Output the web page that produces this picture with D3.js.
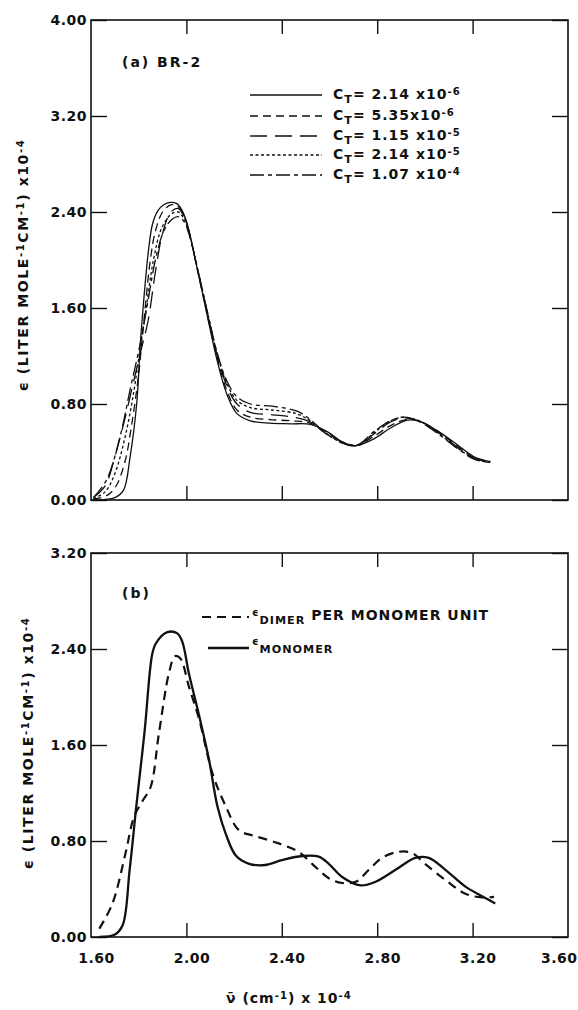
<!DOCTYPE html>
<html>
<head>
<meta charset="utf-8">
<script src="https://cdn.jsdelivr.net/npm/d3@7"></script>
<style>
  body { margin: 0; background: #fff; }
  text { font-family: "DejaVu Sans", sans-serif; fill: #111; font-weight: bold; }
</style>
</head>
<body>
<script>
// ---------------- data (wavenumber x10^-4, epsilon x10^-4) ----------------

// panel (a) BR-2, one spectrum per total concentration
var concLabels = ["2.14 x10", "5.35x10", "1.15 x10", "2.14 x10", "1.07 x10"];
var concExp = ["-6", "-6", "-5", "-5", "-4"];

var ct_2_14e6 = [[1.61,0.0],[1.66,0.005],[1.70,0.02],[1.736,0.08],[1.764,0.36],[1.792,0.81],[1.806,1.28],[1.82,1.64],
  [1.841,2.08],[1.858,2.30],[1.88,2.41],[1.905,2.46],[1.932,2.48],[1.96,2.47],[1.98,2.42],[2.002,2.31],[2.044,1.94],
  [2.086,1.55],[2.128,1.17],[2.17,0.88],[2.212,0.72],[2.268,0.66],[2.35,0.64],[2.44,0.635],[2.52,0.63],[2.59,0.57],
  [2.674,0.46],[2.716,0.455],[2.786,0.51],[2.856,0.60],[2.926,0.665],[2.98,0.655],[3.05,0.58],[3.136,0.46],[3.206,0.36],[3.276,0.32]];
var ct_5_35e6 = [[1.61,0.01],[1.66,0.03],[1.70,0.10],[1.74,0.30],[1.77,0.62],[1.80,1.05],[1.812,1.29],[1.83,1.66],
  [1.85,2.02],[1.87,2.24],[1.90,2.40],[1.935,2.46],[1.962,2.45],[1.983,2.40],[2.004,2.29],[2.046,1.92],[2.088,1.54],
  [2.13,1.18],[2.17,0.91],[2.212,0.75],[2.268,0.69],[2.35,0.67],[2.44,0.66],[2.52,0.64],[2.59,0.56],[2.67,0.47],
  [2.716,0.455],[2.786,0.53],[2.856,0.62],[2.92,0.67],[2.975,0.66],[3.05,0.575],[3.136,0.45],[3.206,0.355],[3.276,0.315]];
var ct_1_15e5 = [[1.61,0.02],[1.66,0.12],[1.70,0.36],[1.74,0.66],[1.78,1.00],[1.81,1.25],[1.84,1.50],[1.87,1.90],
  [1.90,2.22],[1.935,2.40],[1.965,2.43],[1.985,2.38],[2.006,2.27],[2.048,1.91],[2.09,1.54],[2.13,1.20],[2.17,0.95],
  [2.212,0.80],[2.268,0.73],[2.36,0.71],[2.45,0.69],[2.52,0.65],[2.58,0.56],[2.66,0.47],[2.716,0.455],[2.786,0.55],
  [2.856,0.65],[2.91,0.685],[2.97,0.66],[3.05,0.57],[3.136,0.44],[3.206,0.35],[3.276,0.31]];
var ct_2_14e5 = [[1.61,0.01],[1.66,0.07],[1.70,0.22],[1.74,0.50],[1.775,0.85],[1.806,1.26],[1.83,1.58],[1.86,1.98],
  [1.895,2.26],[1.935,2.38],[1.965,2.40],[1.988,2.35],[2.008,2.25],[2.05,1.90],[2.09,1.55],[2.13,1.21],[2.17,0.97],
  [2.212,0.83],[2.268,0.77],[2.36,0.75],[2.46,0.72],[2.52,0.66],[2.58,0.56],[2.65,0.48],[2.716,0.455],[2.786,0.56],
  [2.856,0.66],[2.91,0.69],[2.97,0.665],[3.05,0.565],[3.136,0.435],[3.206,0.345],[3.276,0.31]];
var ct_1_07e4 = [[1.61,0.02],[1.666,0.17],[1.722,0.53],[1.764,0.92],[1.806,1.30],[1.834,1.60],[1.87,2.00],[1.905,2.24],
  [1.94,2.34],[1.968,2.36],[1.99,2.32],[2.01,2.22],[2.05,1.90],[2.09,1.55],[2.13,1.22],[2.17,0.99],[2.212,0.86],
  [2.268,0.80],[2.366,0.78],[2.464,0.74],[2.52,0.67],[2.576,0.57],[2.646,0.49],[2.716,0.46],[2.786,0.57],[2.856,0.66],
  [2.912,0.69],[2.97,0.66],[3.05,0.56],[3.136,0.43],[3.206,0.34],[3.276,0.31]];

// panel (b)
var dimerPerMonomer = [[1.635,0.07],[1.69,0.28],[1.745,0.70],[1.78,1.00],[1.815,1.13],[1.85,1.25],[1.885,1.70],[1.927,2.20],
  [1.952,2.34],[1.975,2.32],[2.01,2.09],[2.054,1.81],[2.11,1.36],[2.165,1.09],[2.22,0.89],[2.29,0.84],[2.387,0.78],
  [2.47,0.71],[2.527,0.61],[2.597,0.49],[2.653,0.45],[2.71,0.46],[2.765,0.56],[2.82,0.66],[2.89,0.71],[2.946,0.70],
  [3.0,0.61],[3.086,0.475],[3.17,0.36],[3.24,0.33],[3.29,0.335]];
var monomer = [[1.635,0.0],[1.70,0.02],[1.733,0.10],[1.762,0.56],[1.79,1.09],[1.825,1.72],[1.857,2.36],[1.873,2.45],
  [1.92,2.54],[1.962,2.53],[1.983,2.46],[2.01,2.20],[2.054,1.84],[2.095,1.475],[2.13,1.09],[2.165,0.86],[2.207,0.68],
  [2.263,0.61],[2.33,0.60],[2.40,0.64],[2.485,0.675],[2.555,0.67],[2.597,0.61],[2.653,0.50],[2.73,0.43],[2.793,0.46],
  [2.877,0.56],[2.96,0.66],[3.016,0.66],[3.086,0.56],[3.17,0.42],[3.24,0.34],[3.295,0.28]];

var xTicksInner = [2.0, 2.4, 2.8, 3.2];
var xTickLabels = [1.6, 2.0, 2.4, 2.8, 3.2, 3.6];
var yTicksTop = [0, 0.8, 1.6, 2.4, 3.2, 4.0];
var yTicksBottom = [0, 0.8, 1.6, 2.4, 3.2];

// ---------------- drawing ----------------
var width = 578, height = 1010;
var svg = d3.select("body").append("svg").attr("width", width).attr("height", height);

var x = d3.scaleLinear().domain([1.6, 3.6]).range([91, 568]);
var yTop = d3.scaleLinear().domain([0, 4]).range([500, 20]);
var yBot = d3.scaleLinear().domain([0, 3.2]).range([937, 553]);

var fmt = d3.format(".2f");

// adds text pieces, "sup"/"sub" pieces shifted and smaller
function richText(sel, parts, size) {
  parts.forEach(function(p) {
    var t = sel.append("tspan").text(p[0]);
    if (p[1] == "sup") t.attr("baseline-shift", "45%").attr("font-size", size * 0.72);
    else if (p[1] == "sub") t.attr("baseline-shift", "-35%").attr("font-size", size * 0.8);
  });
}

function drawFrame(y, yTicks) {
  var g = svg.append("g");
  var y0 = y.range()[0], y1 = y.range()[1];

  var left = g.append("g").attr("transform", "translate(" + x(1.6) + ",0)")
    .call(d3.axisLeft(y).tickValues(yTicks).tickSize(-16).tickPadding(4).tickFormat(fmt));
  g.append("g").attr("transform", "translate(" + x(3.6) + ",0)")
    .call(d3.axisRight(y).tickValues(yTicks).tickSize(-16).tickFormat(""));
  g.append("g").attr("transform", "translate(0," + y1 + ")")
    .call(d3.axisTop(x).tickValues(xTicksInner).tickSize(-14).tickFormat(""));
  g.append("g").attr("transform", "translate(0," + y0 + ")")
    .call(d3.axisBottom(x).tickValues(xTicksInner).tickSize(-14).tickFormat(""));

  g.selectAll(".domain").remove();
  g.selectAll(".tick line").attr("stroke", "#111").attr("stroke-width", 1.4);
  left.selectAll("text").attr("font-size", 14).attr("letter-spacing", "0.5px")
    .style("font-family", "DejaVu Sans").attr("fill", "#111");

  g.append("rect")
    .attr("x", x(1.6)).attr("y", y1)
    .attr("width", x(3.6) - x(1.6)).attr("height", y0 - y1)
    .attr("fill", "none").attr("stroke", "#111").attr("stroke-width", 1.6);
  return g;
}

function yTitle(cx, cy) {
  var t = svg.append("text")
    .attr("transform", "translate(" + cx + "," + cy + ") rotate(-90)")
    .attr("text-anchor", "middle").attr("font-size", 14).attr("letter-spacing", "1.6px");
  richText(t, [["\u03f5 (LITER MOLE"], ["-1", "sup"], ["CM"], ["-1", "sup"], [") x10"], ["-4", "sup"]], 14);
}

// ---- panel (a)
drawFrame(yTop, yTicksTop);
yTitle(28, 265);

var topSeries = [ct_2_14e6, ct_5_35e6, ct_1_15e5, ct_2_14e5, ct_1_07e4];
var topDash = [null, "8,5", "17,8", "3,2.5", "14,4,4,4"];

var lineTop = d3.line().x(function(d) { return x(d[0]); }).y(function(d) { return yTop(d[1]); })
  .curve(d3.curveCatmullRom.alpha(0.5));

svg.append("g").selectAll("path").data(topSeries).enter().append("path")
  .attr("d", lineTop)
  .attr("fill", "none").attr("stroke", "#111").attr("stroke-width", 1.3)
  .attr("stroke-dasharray", function(d, i) { return topDash[i]; });

svg.append("text").attr("x", 122).attr("y", 67).attr("font-size", 14).attr("letter-spacing", "2px")
  .text("(a)  BR-2");

var legRowY = [95, 116, 136, 155, 175];
var legTop = svg.append("g");
concLabels.forEach(function(lab, i) {
  legTop.append("line").attr("x1", 250).attr("x2", 322).attr("y1", legRowY[i]).attr("y2", legRowY[i])
    .attr("stroke", "#111").attr("stroke-width", 1.4).attr("stroke-dasharray", topDash[i]);
  var t = legTop.append("text").attr("x", 333).attr("y", legRowY[i] + 4).attr("font-size", 14)
    .attr("letter-spacing", "1px");
  richText(t, [["C"], ["T", "sub"], ["= " + lab], [concExp[i], "sup"]], 14);
});

// ---- panel (b)
drawFrame(yBot, yTicksBottom);
yTitle(33, 743);

var lineBot = d3.line().x(function(d) { return x(d[0]); }).y(function(d) { return yBot(d[1]); })
  .curve(d3.curveCatmullRom.alpha(0.5));

svg.append("path").datum(dimerPerMonomer).attr("d", lineBot)
  .attr("fill", "none").attr("stroke", "#111").attr("stroke-width", 2.2).attr("stroke-dasharray", "9,6");
svg.append("path").datum(monomer).attr("d", lineBot)
  .attr("fill", "none").attr("stroke", "#111").attr("stroke-width", 2.3);

// x tick labels under panel (b)
var xl = svg.append("g").attr("transform", "translate(5," + 937 + ")")
  .call(d3.axisBottom(x).tickValues(xTickLabels).tickSize(0).tickPadding(16).tickFormat(fmt));
xl.select(".domain").remove();
xl.selectAll("text").attr("font-size", 14).attr("letter-spacing", "0.5px")
  .style("font-family", "DejaVu Sans").attr("fill", "#111");
// last label would run off the page edge
xl.selectAll(".tick").filter(function(d) { return d == 3.6; }).select("text")
  .attr("text-anchor", "end").attr("x", 577 - 5 - x(3.6));

svg.append("text").attr("x", 122).attr("y", 598).attr("font-size", 14).attr("letter-spacing", "2px").text("(b)");

svg.append("line").attr("x1", 202).attr("x2", 249).attr("y1", 617).attr("y2", 617)
  .attr("stroke", "#111").attr("stroke-width", 2.2).attr("stroke-dasharray", "9,6");
var td = svg.append("text").attr("x", 252).attr("y", 620).attr("font-size", 14).attr("letter-spacing", "1px");
richText(td, [["\u03f5", "sup"], ["DIMER", "sub"], [" PER MONOMER UNIT"]], 14);

svg.append("line").attr("x1", 208).attr("x2", 249).attr("y1", 648).attr("y2", 648)
  .attr("stroke", "#111").attr("stroke-width", 2.3);
var tm = svg.append("text").attr("x", 252).attr("y", 649).attr("font-size", 14).attr("letter-spacing", "1px");
richText(tm, [["\u03f5", "sup"], ["MONOMER", "sub"]], 14);

// x axis title
var tx = svg.append("text").attr("x", 226).attr("y", 1003).attr("font-size", 14).attr("letter-spacing", "1px");
richText(tx, [["\u03bd\u0304  (cm"], ["-1", "sup"], [") x 10"], ["-4", "sup"]], 14);
</script>
</body>
</html>
